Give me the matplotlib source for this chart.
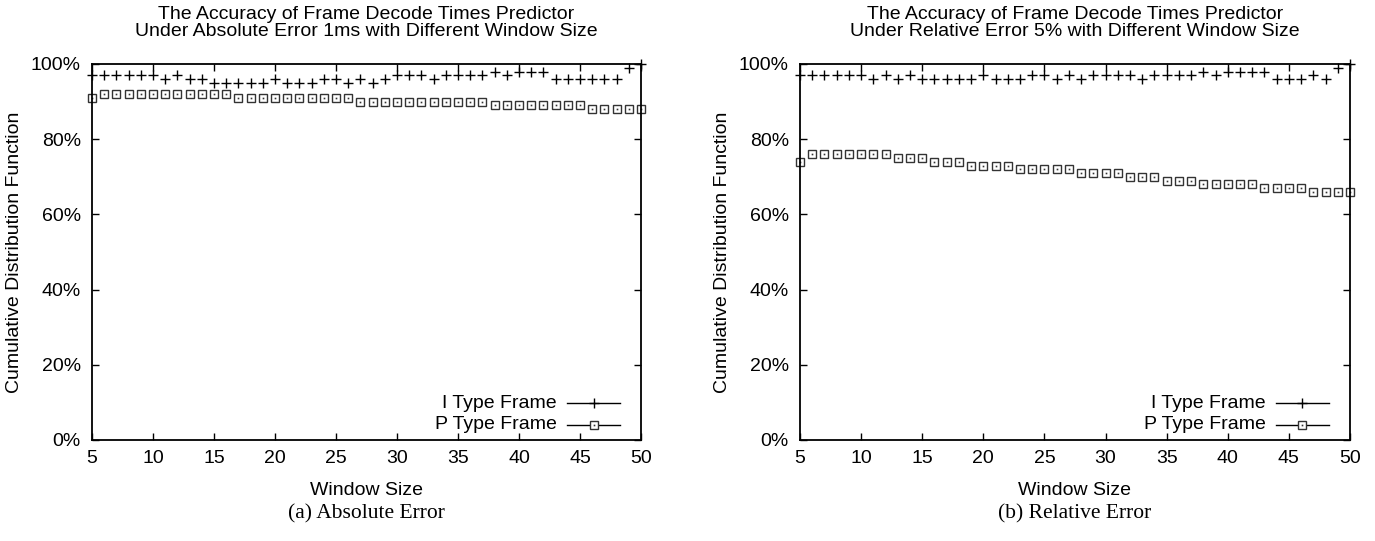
import matplotlib
matplotlib.use("Agg")
import matplotlib.pyplot as plt
import numpy as np

window = list(range(5, 51))

abs_i = [97, 97, 97, 97, 97, 97, 96, 97, 96, 96, 95, 95, 95, 95, 95, 96, 95, 95, 95, 96,
         96, 95, 96, 95, 96, 97, 97, 97, 96, 97, 97, 97, 97, 98, 97, 98, 98, 98, 96, 96,
         96, 96, 96, 96, 99, 100]
abs_p = [91] + [92] * 11 + [91] * 10 + [90] * 11 + [89] * 8 + [88] * 5

rel_i = [97, 97, 97, 97, 97, 97, 96, 97, 96, 97, 96, 96, 96, 96, 96, 97, 96, 96, 96, 97,
         97, 96, 97, 96, 97, 97, 97, 97, 96, 97, 97, 97, 97, 98, 97, 98, 98, 98, 98, 96,
         96, 96, 97, 96, 99, 100]
rel_p = [74] + [76] * 7 + [75] * 3 + [74] * 3 + [73] * 4 + [72] * 5 + [71] * 4 + [70] * 3 \
        + [69] * 3 + [68] * 5 + [67] * 4 + [66] * 4

titles = ["The Accuracy of Frame Decode Times Predictor\nUnder Absolute Error 1ms with Different Window Size",
          "The Accuracy of Frame Decode Times Predictor\nUnder Relative Error 5% with Different Window Size"]
captions = ["(a) Absolute Error", "(b) Relative Error"]
xticks = [5, 10, 15, 20, 25, 30, 35, 40, 45, 50]
yticks = [0, 20, 40, 60, 80, 100]
ytick_labels = ["0%", "20%", "40%", "60%", "80%", "100%"]
series_labels = ["I Type Frame", "P Type Frame"]

SANS = "Liberation Sans"
SERIF = "Liberation Serif"
FS = 14

W, H = 1375, 541
fig = plt.figure(figsize=(W / 100, H / 100), dpi=100)

panels = [(92, 641, abs_i, abs_p), (800, 1350, rel_i, rel_p)]

for k, (x0, x1, ivals, pvals) in enumerate(panels):
    top, bot = 64, 440
    ax = fig.add_axes([x0 / W, (H - bot) / H, (x1 - x0) / W, (bot - top) / H])
    ax.set_xlim(5, 50)
    ax.set_ylim(0, 100)
    for s in ax.spines.values():
        s.set_linewidth(1.3)
    ax.set_xticks(xticks)
    ax.set_xticklabels([str(t) for t in xticks], fontfamily=SANS, fontsize=FS)
    ax.set_yticks(yticks)
    ax.set_yticklabels(ytick_labels, fontfamily=SANS, fontsize=FS)
    ax.tick_params(direction="in", length=5, width=1, top=True, right=True, pad=7)
    ax.tick_params(axis="y", pad=8)

    ax.plot(window, ivals, linestyle="none", marker="+", markersize=7, mew=1.0,
            color="black", clip_on=False)
    ax.plot(window, pvals, linestyle="none", marker="s", markersize=6, mew=1.0,
            mfc="none", mec="#333333", clip_on=False)
    ax.plot(window, pvals, linestyle="none", marker="s", markersize=1.2, mew=0,
            color="#333333", clip_on=False)

    ax.set_title(titles[k], fontfamily=SANS, fontsize=FS, pad=20, linespacing=1.05)
    ax.set_xlabel("Window Size", fontfamily=SANS, fontsize=FS, labelpad=11)
    ax.set_ylabel("Cumulative Distribution Function", fontfamily=SANS, fontsize=FS, labelpad=6)

    # legend (gnuplot style: right-aligned text, sample line with point)
    lx0, lx1 = 0.865, 0.962
    lxm = (lx0 + lx1) / 2
    for j, (lab, y) in enumerate(zip(series_labels, [0.098, 0.04])):
        ax.text(lx0 - 0.018, y, lab, transform=ax.transAxes, ha="right", va="center",
                fontfamily=SANS, fontsize=FS)
        ax.plot([lx0, lx1], [y, y], transform=ax.transAxes, color="black", lw=1.0,
                clip_on=False)
        if j == 0:
            ax.plot([lxm], [y], transform=ax.transAxes, marker="+", markersize=7,
                    mew=1.0, color="black", clip_on=False)
        else:
            ax.plot([lxm], [y], transform=ax.transAxes, marker="s", markersize=6,
                    mew=1.0, mfc="white", mec="#333333", clip_on=False)
            ax.plot([lxm], [y], transform=ax.transAxes, marker="s", markersize=1.2,
                    mew=0, color="#333333", clip_on=False)

    cx = (x0 + x1) / 2 / W
    fig.text(cx, 1 - 514 / H, captions[k], ha="center", va="center",
             fontfamily=SERIF, fontsize=15.5)

fig.savefig("out.png", dpi=100)
